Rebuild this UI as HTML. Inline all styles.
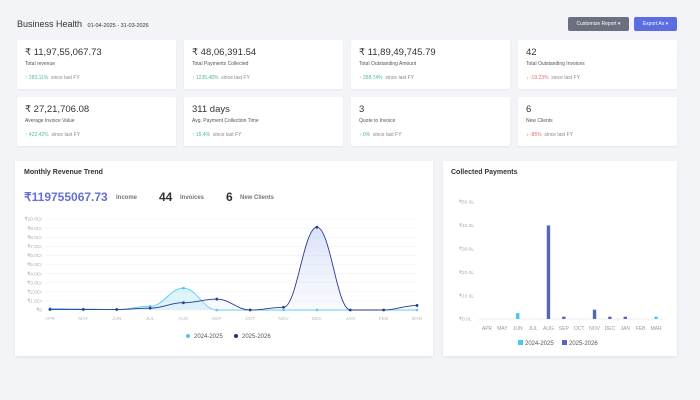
<!DOCTYPE html>
<html><head><meta charset="utf-8">
<style>
*{box-sizing:border-box;margin:0;padding:0}
body{width:700px;height:400px;background:#f3f4f7;font-family:"Liberation Sans",sans-serif;position:relative;overflow:hidden;color:#2f3340}
.card{position:absolute;background:#fff;border-radius:2px;box-shadow:0 1px 2px rgba(0,0,0,.06);width:159px;height:49px}
.card .v{position:absolute;left:8px;top:7px;font-size:9.5px;color:#333}
.card .l{position:absolute;left:8px;top:21px;font-size:5px;color:#555}
.card .c{position:absolute;left:8px;top:35px;font-size:5px;color:#888}
.up{color:#4cbf8d}.dn{color:#e36b6b}
.panel{position:absolute;background:#fff;box-shadow:0 1px 3px rgba(0,0,0,.08)}
.btn{position:absolute;top:17px;height:14px;color:#fff;font-size:5px;line-height:14px;text-align:center;border-radius:2px}
</style></head><body>
<div style="position:absolute;left:17px;top:19px;font-size:9px;color:#333">Business Health <span style="font-size:5.5px;margin-left:3px">01-04-2025 - 31-03-2026</span></div>
<div class="btn" style="left:568px;width:61px;background:#6c6f80">Customize Report &#9662;</div>
<div class="btn" style="left:634px;width:43px;background:#5b6ee1">Export As &#9662;</div>

<div class="card" style="left:17px;top:40px"><div class="v">₹ 11,97,55,067.73</div><div class="l">Total revenue</div><div class="c"><span class="up">↑ 283.11%</span>&nbsp; since last FY</div></div>
<div class="card" style="left:184px;top:40px"><div class="v">₹ 48,06,391.54</div><div class="l">Total Payments Collected</div><div class="c"><span class="up">↑ 1235.48%</span>&nbsp; since last FY</div></div>
<div class="card" style="left:351px;top:40px"><div class="v">₹ 11,89,49,745.79</div><div class="l">Total Outstanding Amount</div><div class="c"><span class="up">↑ 288.74%</span>&nbsp; since last FY</div></div>
<div class="card" style="left:518px;top:40px"><div class="v">42</div><div class="l">Total Outstanding Invoices</div><div class="c"><span class="dn">↓ -19.23%</span>&nbsp; since last FY</div></div>
<div class="card" style="left:17px;top:97px"><div class="v">₹ 27,21,706.08</div><div class="l">Average Invoice Value</div><div class="c"><span class="up">↑ 422.42%</span>&nbsp; since last FY</div></div>
<div class="card" style="left:184px;top:97px"><div class="v">311 days</div><div class="l">Avg. Payment Collection Time</div><div class="c"><span class="up">↑ 15.4%</span>&nbsp; since last FY</div></div>
<div class="card" style="left:351px;top:97px"><div class="v">3</div><div class="l">Quote to Invoice</div><div class="c"><span class="up">↑ 0%</span>&nbsp; since last FY</div></div>
<div class="card" style="left:518px;top:97px"><div class="v">6</div><div class="l">New Clients</div><div class="c"><span class="dn">↓ -85%</span>&nbsp; since last FY</div></div>

<div class="panel" style="left:15px;top:161px;width:418px;height:195px"></div>
<div class="panel" style="left:443px;top:161px;width:234px;height:195px"></div>
<div style="position:absolute;left:24px;top:169px;font-size:7px;color:#333;font-weight:bold">Monthly Revenue Trend</div>
<div style="position:absolute;left:24px;top:190px;font-size:12px;color:#6570d4;font-weight:bold">₹119755067.73</div>
<div style="position:absolute;left:116px;top:195px;font-size:6px;color:#777;font-weight:bold">Income</div>
<div style="position:absolute;left:159px;top:190px;font-size:12px;color:#333;font-weight:bold">44</div>
<div style="position:absolute;left:180px;top:195px;font-size:6px;color:#777;font-weight:bold">Invoices</div>
<div style="position:absolute;left:226px;top:190px;font-size:12px;color:#333;font-weight:bold">6</div>
<div style="position:absolute;left:240px;top:195px;font-size:6px;color:#777;font-weight:bold">New Clients</div>
<div style="position:absolute;left:451px;top:169px;font-size:7px;color:#333;font-weight:bold">Collected Payments</div>

<svg id="s" width="700" height="400" style="position:absolute;left:0;top:0" font-family="Liberation Sans, sans-serif"></svg>
<script>
var s=document.getElementById('s'),h='<defs><linearGradient id="g" x1="0" y1="0" x2="0" y2="1"><stop offset="0" stop-color="#a9bdf0" stop-opacity="0.45"/><stop offset="1" stop-color="#dfe7fa" stop-opacity="0.2"/></linearGradient></defs>';
var m=['APR','MAY','JUN','JUL','AUG','SEP','OCT','NOV','DEC','JAN','FEB','MAR'];
var x0=50,dx=(417-50)/11,y0=310,py=9.1;
for(var i=0;i<=10;i++){var y=y0-i*py;h+='<line x1="45" x2="417" y1="'+y+'" y2="'+y+'" stroke="#f1f2f5" stroke-width="0.6"/>';
h+='<text x="42" y="'+(y+1.7)+'" font-size="4.8" fill="#aaa" text-anchor="end">₹'+(i==0?'0':i+'.0Cr')+'</text>';}
m.forEach(function(t,i){h+='<text x="'+(x0+i*dx)+'" y="320" font-size="4.8" fill="#bbb" text-anchor="middle">'+t+'</text>';});
function path(d){var p=d.map(function(v,i){return [x0+i*dx,y0-v*py]});var s='M'+p[0][0]+','+p[0][1];
for(var i=0;i<p.length-1;i++){var b=p[i],c=p[i+1],k=dx*0.4;
s+=' C'+(b[0]+k)+','+b[1]+' '+(c[0]-k)+','+c[1]+' '+c[0]+','+c[1];}return [s,p];}
function series(d,col,fill){var r=path(d);h+='<path d="'+r[0]+' L417,310 L50,310Z" fill="'+fill+'"/>';
h+='<path d="'+r[0]+'" fill="none" stroke="'+col+'" stroke-width="0.9"/>';
r[1].forEach(function(p){h+='<circle cx="'+p[0]+'" cy="'+p[1]+'" r="1.4" fill="'+col+'"/>';});}
series([.15,.1,.05,.4,2.4,0,0,0,0,0,0,0],'#5bc8ee','rgba(120,210,240,0.25)');
series([.05,.05,.05,.2,.8,1.2,0,.3,9.1,0,0,.5],'#2b3a8f','url(#g)');
h+='<circle cx="188" cy="336" r="2" fill="#4cc6f0"/><text x="194" y="338" font-size="6" fill="#555">2024-2025</text>';
h+='<circle cx="236" cy="336" r="2" fill="#25308a"/><text x="242" y="338" font-size="6" fill="#555">2025-2026</text>';
var by=319,bp=2.34,bx=487,bd=(656-487)/11;
for(var i=0;i<=5;i++){h+='<text x="459" y="'+(by-i*10*bp+1.7)+'" font-size="4.8" fill="#aaa">₹'+(i*10)+'.0L</text>';}
h+='<line x1="480" x2="663" y1="'+by+'" y2="'+by+'" stroke="#ddd" stroke-width="0.6"/>';
m.forEach(function(t,i){h+='<line x1="'+(bx-bd/2+i*bd)+'" x2="'+(bx-bd/2+i*bd)+'" y1="319" y2="321" stroke="#ddd" stroke-width="0.5"/><text x="'+(bx+i*bd)+'" y="330" font-size="5" fill="#999" text-anchor="middle">'+t+'</text>';});
function bar(i,v,c){var hh=v*bp;h+='<rect x="'+(bx+i*bd-1.7)+'" y="'+(by-hh)+'" width="3.4" height="'+hh+'" fill="'+c+'"/>';}
bar(2,2.5,'#4cc6f0');bar(11,1,'#4cc6f0');
var dc='#5566c0';bar(4,40,dc);bar(5,1,dc);bar(7,4,dc);bar(8,1,dc);bar(9,1,dc);
h+='<rect x="518" y="340" width="5" height="5" fill="#4cc6f0"/><text x="525" y="345" font-size="6" fill="#555">2024-2025</text>';
h+='<rect x="562" y="340" width="5" height="5" fill="#5566c0"/><text x="569" y="345" font-size="6" fill="#555">2025-2026</text>';
s.innerHTML=h;
</script>
</body></html>
